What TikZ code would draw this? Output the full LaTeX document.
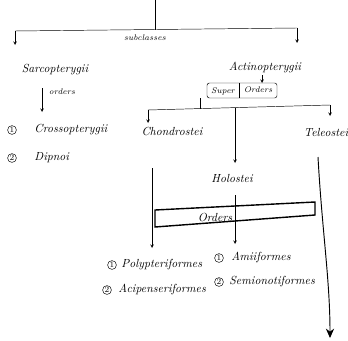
\documentclass[tikz,border=0pt]{standalone}
\usepackage{amsmath}
\usepackage{tikz}
\usetikzlibrary{arrows}
\usetikzlibrary{arrows.meta}

\begin{document}
\begin{tikzpicture}[x=0.03cm, y=-0.03cm,
  hand/.style={font=\normalsize\itshape, inner sep=1pt},
  tiny/.style={font=\scriptsize\itshape, inner sep=1pt},
  num/.style={draw, circle, thin, font=\scriptsize, inner sep=0.5pt},
  link/.style={thin, ->, >=stealth}]
\useasboundingbox (0,0) rectangle (348,340);

% Top level split into subclasses
\coordinate (top) at (155,0);
\coordinate (split) at (155,30);
\coordinate (sl) at (15,31);
\coordinate (sr) at (297,28);
\draw [thin] (top) -- (split);
\draw [thin] (sl) -- (sr);
\draw [link] (sl) -- (15,45);
\draw [link] (sr) -- (297,43);
\node[tiny] (subcl) at (145,38) {subclasses};

% Sarcopterygii branch
\node[hand] (sarco) at (55,70) {Sarcopterygii};
\coordinate (sarcoOut) at (42,88);
\draw [link] (sarcoOut) -- (42,112);
\node[tiny] (ordSarco) at (62,92) {orders};
\node[num] (n1a) at (12,130) {1};
\node[hand, anchor=west] (cross) at (33,130) {Crossopterygii};
\node[num] (n2a) at (12,158) {2};
\node[hand, anchor=west] (dipnoi) at (33,158) {Dipnoi};

% Actinopterygii branch
\node[hand] (actino) at (265,68) {Actinopterygii};
\draw [link] (262,75) -- (262,83);
\draw [thin, rounded corners=2pt] (207,83) rectangle (277,98);
\draw [thin] (239,83) -- (239,98);
\node[tiny] (super) at (223,91) {Super};
\node[tiny] (sorders) at (258,90) {Orders};

% Super orders split
\coordinate (bl) at (148,110);
\coordinate (bm) at (235,108);
\coordinate (br) at (330,105);
\draw [thin] (200,98) -- (200,109);
\draw [thin] (bl) -- (br);
\draw [link] (bl) -- (148,123);
\draw [link] (br) -- (330,116);
\draw [link] (bm) -- (235,163);

\node[hand] (chondro) at (172,131) {Chondrostei};
\node[hand] (teleo) at (326,132) {Teleostei};
\node[hand] (holo) at (232,178) {Holostei};

% Orders band
\draw [very thick] (155,210) -- (315,202) -- (315,215) -- (155,227) -- cycle;
\node[hand] (orders) at (215,217) {Orders};

% Order arrows
\draw [link] (152,168) -- (152,248);
\draw [link] (235,195) -- (235,244);
\draw [thick, -{Stealth[length=8pt,width=7pt]}] (318,157) .. controls (322,230) and (330,280) .. (330,338);

\node[num] (n1b) at (112,265) {1};
\node[hand, anchor=west] (poly) at (120,265) {Polypteriformes};
\node[num] (n2b) at (107,290) {2};
\node[hand, anchor=west] (acip) at (117,290) {Acipenseriformes};
\node[num] (n1c) at (219,258) {1};
\node[hand, anchor=west] (amii) at (230,258) {Amiiformes};
\node[num] (n2c) at (219,282) {2};
\node[hand, anchor=west] (semio) at (228,282) {Semionotiformes};

\end{tikzpicture}
\end{document}
